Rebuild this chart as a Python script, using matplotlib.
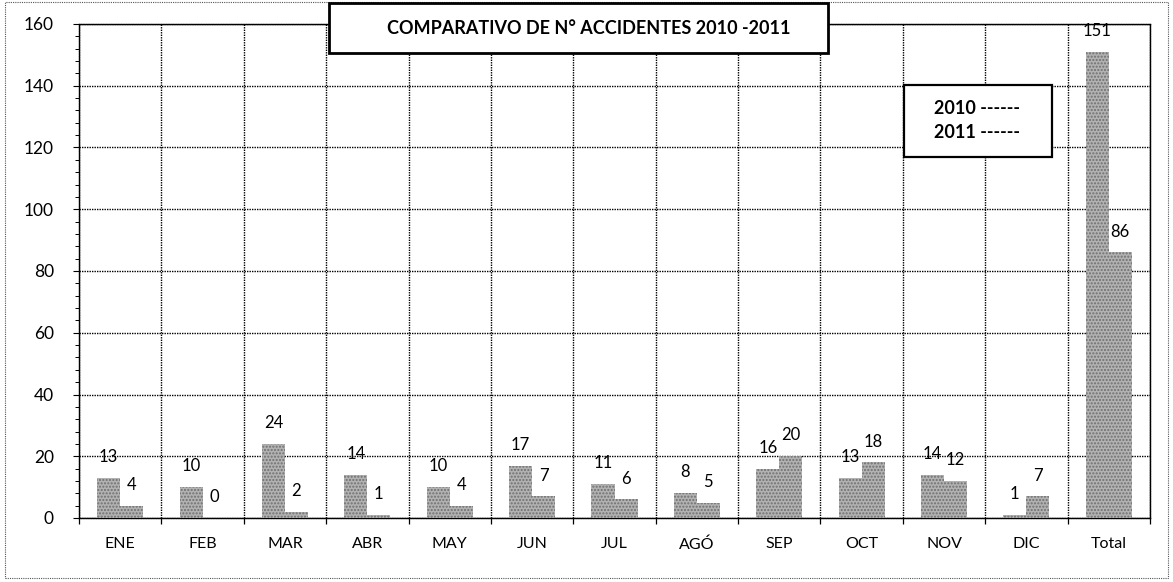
import numpy as np
import matplotlib.pyplot as plt
from matplotlib.patches import Rectangle
from matplotlib.ticker import MultipleLocator, FixedLocator

plt.rcParams['font.family'] = ['Lato', 'DejaVu Sans']
plt.rcParams['hatch.linewidth'] = 1.0

meses = ['ENE', 'FEB', 'MAR', 'ABR', 'MAY', 'JUN', 'JUL', 'AGÓ', 'SEP', 'OCT', 'NOV', 'DIC', 'Total']
acc_2010 = [13, 10, 24, 14, 10, 17, 11, 8, 16, 13, 14, 1, 151]
acc_2011 = [4, 0, 2, 1, 4, 7, 6, 5, 20, 18, 12, 7, 86]

W, H = 1173, 582
fig = plt.figure(figsize=(W / 100, H / 100), dpi=100)
ax = fig.add_axes([79 / W, 1 - 518 / H, (1150 - 79) / W, (518 - 24) / H])

x = np.arange(len(meses))
bw = 0.28
bar_kw = dict(width=bw, color='#b2b2b2', edgecolor='#6f6f6f', linewidth=0, hatch='.....', zorder=3)
b1 = ax.bar(x - bw / 2, acc_2010, **bar_kw)
b2 = ax.bar(x + bw / 2, acc_2011, **bar_kw)

for bars, vals in ((b1, acc_2010), (b2, acc_2011)):
    for rect, v in zip(bars, vals):
        ax.annotate(str(v), (rect.get_x() + rect.get_width() / 2, v),
                    xytext=(0, 15), textcoords='offset points',
                    ha='center', va='center', fontsize=12, zorder=4)

ax.set_xlim(-0.5, len(meses) - 0.5)
ax.set_ylim(0, 160)
ax.yaxis.set_major_locator(MultipleLocator(20))
ax.yaxis.set_minor_locator(MultipleLocator(4))
ax.set_xticks(x)
ax.set_xticklabels(meses, fontsize=11.5)
ax.xaxis.set_minor_locator(FixedLocator(np.arange(-0.5, len(meses), 1.0)))
ax.tick_params(axis='x', which='major', length=0, pad=14)
ax.tick_params(axis='x', which='minor', length=4, direction='out', width=0.9)
ax.tick_params(axis='y', which='major', labelsize=12.5, length=4, pad=14)
ax.tick_params(axis='y', which='minor', length=3, width=0.7)

dots = (0, (1, 0.8))
ax.grid(True, axis='y', which='major', color='black', linestyle=dots, linewidth=1.0, zorder=1)
ax.grid(True, axis='x', which='minor', color='black', linestyle=dots, linewidth=1.0, zorder=1)
for s in ax.spines.values():
    s.set_linestyle(dots)
    s.set_linewidth(1.0)

# marco punteado exterior
fig.patches.append(Rectangle((5 / W, 4 / H), 1163 / W, 576 / H, transform=fig.transFigure,
                             fill=False, edgecolor='#555555', linestyle=(0, (1, 1)), linewidth=0.8))

# caja del título
fig.patches.append(Rectangle((329 / W, 1 - 53 / H), 499 / W, 50 / H, transform=fig.transFigure,
                             facecolor='white', edgecolor='black', linewidth=2, zorder=5))
fig.text(589 / W, 1 - 28 / H, 'COMPARATIVO DE N° ACCIDENTES 2010 -2011', ha='center', va='center',
         fontsize=13, fontweight='bold', zorder=6)

# leyenda manual
fig.patches.append(Rectangle((904 / W, 1 - 157 / H), 148 / W, 72 / H, transform=fig.transFigure,
                             facecolor='white', edgecolor='black', linewidth=1.6, zorder=5))
fig.text(934 / W, 1 - 109 / H, '2010 ------', ha='left', va='center', fontsize=13, fontweight='bold', zorder=6)
fig.text(934 / W, 1 - 133 / H, '2011 ------', ha='left', va='center', fontsize=13, fontweight='bold', zorder=6)

fig.savefig('out.png', dpi=100)
